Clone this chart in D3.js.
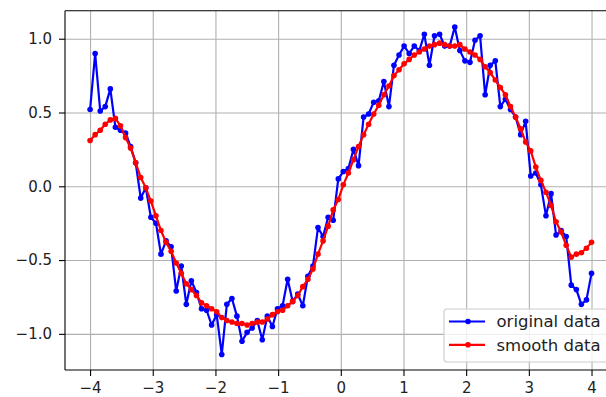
<!DOCTYPE html>
<html>
<head>
<meta charset="utf-8">
<script src="https://cdn.jsdelivr.net/npm/d3@7"></script>
<style>
    body { margin: 0; background: #fff; }
    text { font-family: "DejaVu Sans", sans-serif; fill: #222; }
</style>
</head>
<body>
<div id="chart"></div>
<script>

// x sample positions (linspace -4..4, 100 points)
let xValues = [
    -4.000, -3.919, -3.838, -3.758, -3.677, -3.596, -3.515, -3.434, -3.354, -3.273,
    -3.192, -3.111, -3.030, -2.949, -2.869, -2.788, -2.707, -2.626, -2.545, -2.465,
    -2.384, -2.303, -2.222, -2.141, -2.061, -1.980, -1.899, -1.818, -1.737, -1.657,
    -1.576, -1.495, -1.414, -1.333, -1.253, -1.172, -1.091, -1.010, -0.929, -0.848,
    -0.768, -0.687, -0.606, -0.525, -0.444, -0.364, -0.283, -0.202, -0.121, -0.040,
    0.040, 0.121, 0.202, 0.283, 0.364, 0.444, 0.525, 0.606, 0.687, 0.768,
    0.848, 0.929, 1.010, 1.091, 1.172, 1.253, 1.333, 1.414, 1.495, 1.576,
    1.657, 1.737, 1.818, 1.899, 1.980, 2.061, 2.141, 2.222, 2.303, 2.384,
    2.465, 2.545, 2.626, 2.707, 2.788, 2.869, 2.949, 3.030, 3.111, 3.192,
    3.273, 3.354, 3.434, 3.515, 3.596, 3.677, 3.758, 3.838, 3.919, 4.000
];

// noisy values
let originalValues = [
    0.52, 0.90, 0.51, 0.54, 0.66, 0.40, 0.38, 0.36, 0.27, 0.16,
    -0.08, -0.01, -0.21, -0.25, -0.46, -0.37, -0.41, -0.71, -0.54, -0.80,
    -0.64, -0.72, -0.83, -0.84, -0.94, -0.87, -1.14, -0.80, -0.76, -0.88,
    -1.05, -0.99, -0.96, -0.91, -1.04, -0.88, -0.95, -0.83, -0.81, -0.63,
    -0.78, -0.73, -0.81, -0.61, -0.54, -0.28, -0.34, -0.21, -0.23, 0.05,
    0.10, 0.12, 0.25, 0.14, 0.47, 0.49, 0.57, 0.58, 0.71, 0.54,
    0.82, 0.89, 0.95, 0.90, 0.95, 0.92, 1.03, 0.82, 1.02, 1.03,
    0.95, 0.95, 1.08, 0.92, 0.85, 0.84, 0.99, 1.02, 0.62, 0.82,
    0.85, 0.54, 0.59, 0.52, 0.47, 0.35, 0.44, 0.07, 0.09, 0.01,
    -0.20, -0.05, -0.33, -0.30, -0.34, -0.67, -0.70, -0.80, -0.77, -0.59
];

// smoothed values
let smoothValues = [
    0.31, 0.35, 0.38, 0.42, 0.45, 0.46, 0.41, 0.33, 0.26, 0.16,
    0.06, -0.01, -0.10, -0.20, -0.30, -0.38, -0.44, -0.52, -0.59, -0.66,
    -0.70, -0.74, -0.79, -0.81, -0.83, -0.85, -0.89, -0.91, -0.92, -0.93,
    -0.93, -0.94, -0.93, -0.92, -0.92, -0.90, -0.87, -0.85, -0.84, -0.81,
    -0.78, -0.74, -0.68, -0.63, -0.56, -0.46, -0.37, -0.27, -0.16, -0.09,
    0.01, 0.09, 0.18, 0.27, 0.35, 0.42, 0.49, 0.55, 0.62, 0.68,
    0.75, 0.79, 0.83, 0.86, 0.89, 0.91, 0.93, 0.95, 0.96, 0.97,
    0.96, 0.95, 0.95, 0.96, 0.93, 0.91, 0.89, 0.86, 0.81, 0.77,
    0.72, 0.67, 0.62, 0.54, 0.47, 0.39, 0.30, 0.24, 0.13, 0.04,
    -0.04, -0.13, -0.24, -0.31, -0.40, -0.48, -0.46, -0.45, -0.42, -0.38
];

let xTicks = [-4, -3, -2, -1, 0, 1, 2, 3, 4];
let yTicks = [-1.0, -0.5, 0.0, 0.5, 1.0];

let seriesNames = ["original data", "smooth data"];
let seriesColors = ["#0000ff", "#ff0000"];


class LineChart {

    constructor(parentElement) {
        this.parentElement = parentElement;
        this.series = [originalValues, smoothValues].map(vals =>
            vals.map((v, i) => ({x: xValues[i], y: v})));
        this.initVis();
    }

    initVis() {
        let vis = this;

        // axes box (the right part of the figure is cut off in the original)
        vis.margin = {top: 10.7, left: 65};
        vis.width = 551.6;
        vis.height = 359.3;

        vis.svg = d3.select('#' + vis.parentElement)
            .append('svg')
            .attr("width", 606)
            .attr("height", 397)
            .append("g")
            .attr("transform", "translate(" + vis.margin.left + "," + vis.margin.top + ")");

        vis.x = d3.scaleLinear().domain([-4.4, 4.4]).range([0, vis.width]);
        vis.y = d3.scaleLinear().domain([-1.245, 1.19]).range([vis.height, 0]);

        vis.svg.append("clipPath").attr("id", "clip")
            .append("rect")
            .attr("width", vis.width)
            .attr("height", vis.height);

        // grid
        vis.svg.append("g").attr("class", "x-grid")
            .call(d3.axisBottom(vis.x).tickValues(xTicks).tickSize(vis.height).tickFormat(""))
            .call(g => g.select(".domain").remove())
            .selectAll("line").attr("stroke", "#b0b0b0").attr("stroke-width", 1.1);

        vis.svg.append("g").attr("class", "y-grid")
            .call(d3.axisLeft(vis.y).tickValues(yTicks).tickSize(-vis.width).tickFormat(""))
            .call(g => g.select(".domain").remove())
            .selectAll("line").attr("stroke", "#b0b0b0").attr("stroke-width", 1.1);

        vis.updateVis();
        vis.drawAxes();
        vis.drawLegend();
    }

    updateVis() {
        let vis = this;

        let line = d3.line().x(d => vis.x(d.x)).y(d => vis.y(d.y));

        let plot = vis.svg.append("g").attr("clip-path", "url(#clip)");

        vis.series.forEach((s, k) => {
            plot.append("path")
                .datum(s)
                .attr("fill", "none")
                .attr("stroke", seriesColors[k])
                .attr("stroke-width", 2.2)
                .attr("stroke-linejoin", "round")
                .attr("d", line);

            plot.selectAll(".dot" + k)
                .data(s)
                .enter().append("circle")
                .attr("class", "dot" + k)
                .attr("cx", d => vis.x(d.x))
                .attr("cy", d => vis.y(d.y))
                .attr("r", 2.8)
                .attr("fill", seriesColors[k]);
        });
    }

    drawAxes() {
        let vis = this;

        let xAxis = vis.svg.append("g")
            .attr("class", "x-axis")
            .attr("transform", "translate(0," + vis.height + ")")
            .call(d3.axisBottom(vis.x).tickValues(xTicks).tickSize(6).tickPadding(6.5)
                .tickFormat(d => d3.format("d")(d).replace("-", "\u2212")));

        let yAxis = vis.svg.append("g")
            .attr("class", "y-axis")
            .call(d3.axisLeft(vis.y).tickValues(yTicks).tickSize(6).tickPadding(7)
                .tickFormat(d => d3.format(".1f")(d).replace("-", "\u2212")));

        [xAxis, yAxis].forEach(g => {
            g.select(".domain").remove();
            g.selectAll("line").attr("stroke", "#000").attr("stroke-width", 1.1);
            g.selectAll("text").attr("font-size", 15).attr("fill", "#222")
                .style("font-family", "'DejaVu Sans', sans-serif");
        });

        // spines
        let spine = {stroke: "#000", "stroke-width": 1.1};
        vis.svg.append("line").attr("x1", 0).attr("x2", 0).attr("y1", 0).attr("y2", vis.height)
            .attr("stroke", spine.stroke).attr("stroke-width", spine["stroke-width"]);
        vis.svg.append("line").attr("x1", 0).attr("x2", vis.width).attr("y1", vis.height).attr("y2", vis.height)
            .attr("stroke", spine.stroke).attr("stroke-width", spine["stroke-width"]);
        vis.svg.append("line").attr("x1", 0).attr("x2", vis.width).attr("y1", 0).attr("y2", 0)
            .attr("stroke", spine.stroke).attr("stroke-width", spine["stroke-width"]);
    }

    drawLegend() {
        let vis = this;

        let legend = vis.svg.append("g")
            .attr("class", "legend")
            .attr("transform", "translate(" + (444 - vis.margin.left) + "," + (309 - vis.margin.top) + ")");

        legend.append("rect")
            .attr("width", 170)
            .attr("height", 53)
            .attr("rx", 3)
            .attr("fill", "#fff")
            .attr("fill-opacity", 0.8)
            .attr("stroke", "#cccccc")
            .attr("stroke-width", 1.1);

        seriesNames.forEach((name, k) => {
            let row = legend.append("g").attr("transform", "translate(0," + (12.5 + k * 23.3) + ")");
            row.append("line")
                .attr("x1", 5).attr("x2", 41)
                .attr("stroke", seriesColors[k]).attr("stroke-width", 2.2);
            row.append("circle")
                .attr("cx", 24).attr("r", 2.8).attr("fill", seriesColors[k]);
            row.append("text")
                .attr("x", 52.5)
                .attr("dy", "0.35em")
                .attr("font-size", 16.5)
                .text(name);
        });
    }
}

let chart = new LineChart("chart");

</script>
</body>
</html>
